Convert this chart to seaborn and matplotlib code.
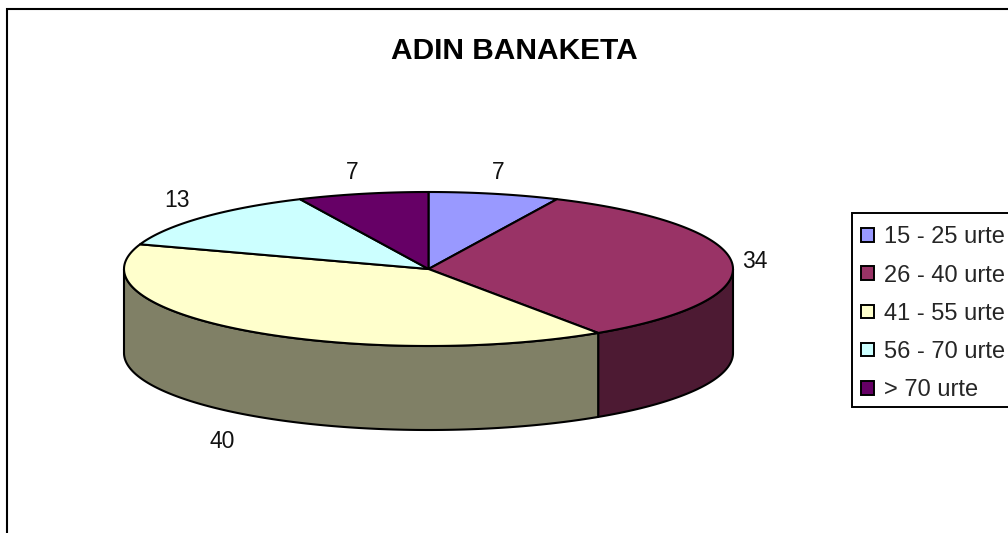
import numpy as np
import matplotlib
matplotlib.use("Agg")
import matplotlib.pyplot as plt
from matplotlib.patches import Patch, Polygon, Rectangle
import seaborn as sns

title = "ADIN BANAKETA"
categories = ["15 - 25 urte", "26 - 40 urte", "41 - 55 urte", "56 - 70 urte", "> 70 urte"]
values = [7, 34, 40, 13, 7]
colors = ["#9999FF", "#993366", "#FFFFCC", "#CCFFFF", "#660066"]
wall_colors = ["#4D4D80", "#4D1A33", "#808066", "#668080", "#330033"]

sns.set_style("white")
plt.rcParams["font.family"] = ["Liberation Sans", "DejaVu Sans"]

W, H = 1008, 533
fig = plt.figure(figsize=(W / 100, H / 100), dpi=100, facecolor="white")
ax = fig.add_axes([0, 0, 1, 1])
ax.set_xlim(0, W)
ax.set_ylim(H, 0)
ax.axis("off")

# layout of the tilted pie, in pixels
cx, cy, rx, ry, depth = 428.5, 269, 304.5, 77, 84
lw = 1.5


def rim(deg, drop=0.0):
    t = np.radians(deg)
    return np.column_stack([cx + rx * np.sin(t), cy - ry * np.cos(t) + drop])


edges = np.concatenate([[0], np.cumsum(values)]) / sum(values) * 360

# side wall: only the front half of the rim (90..270 degrees) is visible
for a, b, wc in zip(edges[:-1], edges[1:], wall_colors):
    lo, hi = max(a, 90), min(b, 270)
    if hi > lo:
        arc = np.linspace(lo, hi, 120)
        pts = np.vstack([rim(arc), rim(arc[::-1], depth)])
        ax.add_patch(Polygon(pts, closed=True, fc=wc, ec="black", lw=lw, joinstyle="round"))

# top face
for a, b, c in zip(edges[:-1], edges[1:], colors):
    arc = np.linspace(a, b, 120)
    pts = np.vstack([[[cx, cy]], rim(arc)])
    ax.add_patch(Polygon(pts, closed=True, fc=c, ec="black", lw=lw, joinstyle="round"))

# value labels, offset from the rim at the middle of each slice
label_offsets = [(4, -21), (23, -2), (-21, 111), (-25, -17), (-11, -21)]
for a, b, v, (dx, dy) in zip(edges[:-1], edges[1:], values, label_offsets):
    p = rim((a + b) / 2)[0]
    ax.text(p[0] + dx, p[1] + dy, str(v), ha="center", va="center", fontsize=16.5, color="#111111")

ax.text(514, 51, title, ha="center", va="center", fontsize=21.5, fontweight="bold", color="black")

# chart frame (top and left edges are the only ones inside the picture)
ax.plot([7, 7, W], [H, 8.5, 8.5], color="black", lw=1.5, solid_joinstyle="miter")

# legend frame runs off the right edge of the picture
ax.add_patch(Rectangle((852, 213), 180, 194, fc="white", ec="black", lw=1.4))

handles = [Patch(fc=c, ec="black", lw=1.4, label=n) for c, n in zip(colors, categories)]
leg = ax.legend(
    handles=handles,
    loc="upper left",
    bbox_to_anchor=(852, 217),
    bbox_transform=ax.transData,
    fontsize=17,
    frameon=False,
    borderaxespad=0,
    borderpad=0.4,
    labelspacing=0.685,
    handlelength=0.52,
    handleheight=0.52,
    handletextpad=0.42,
)

fig.savefig("out.png", dpi=100)
